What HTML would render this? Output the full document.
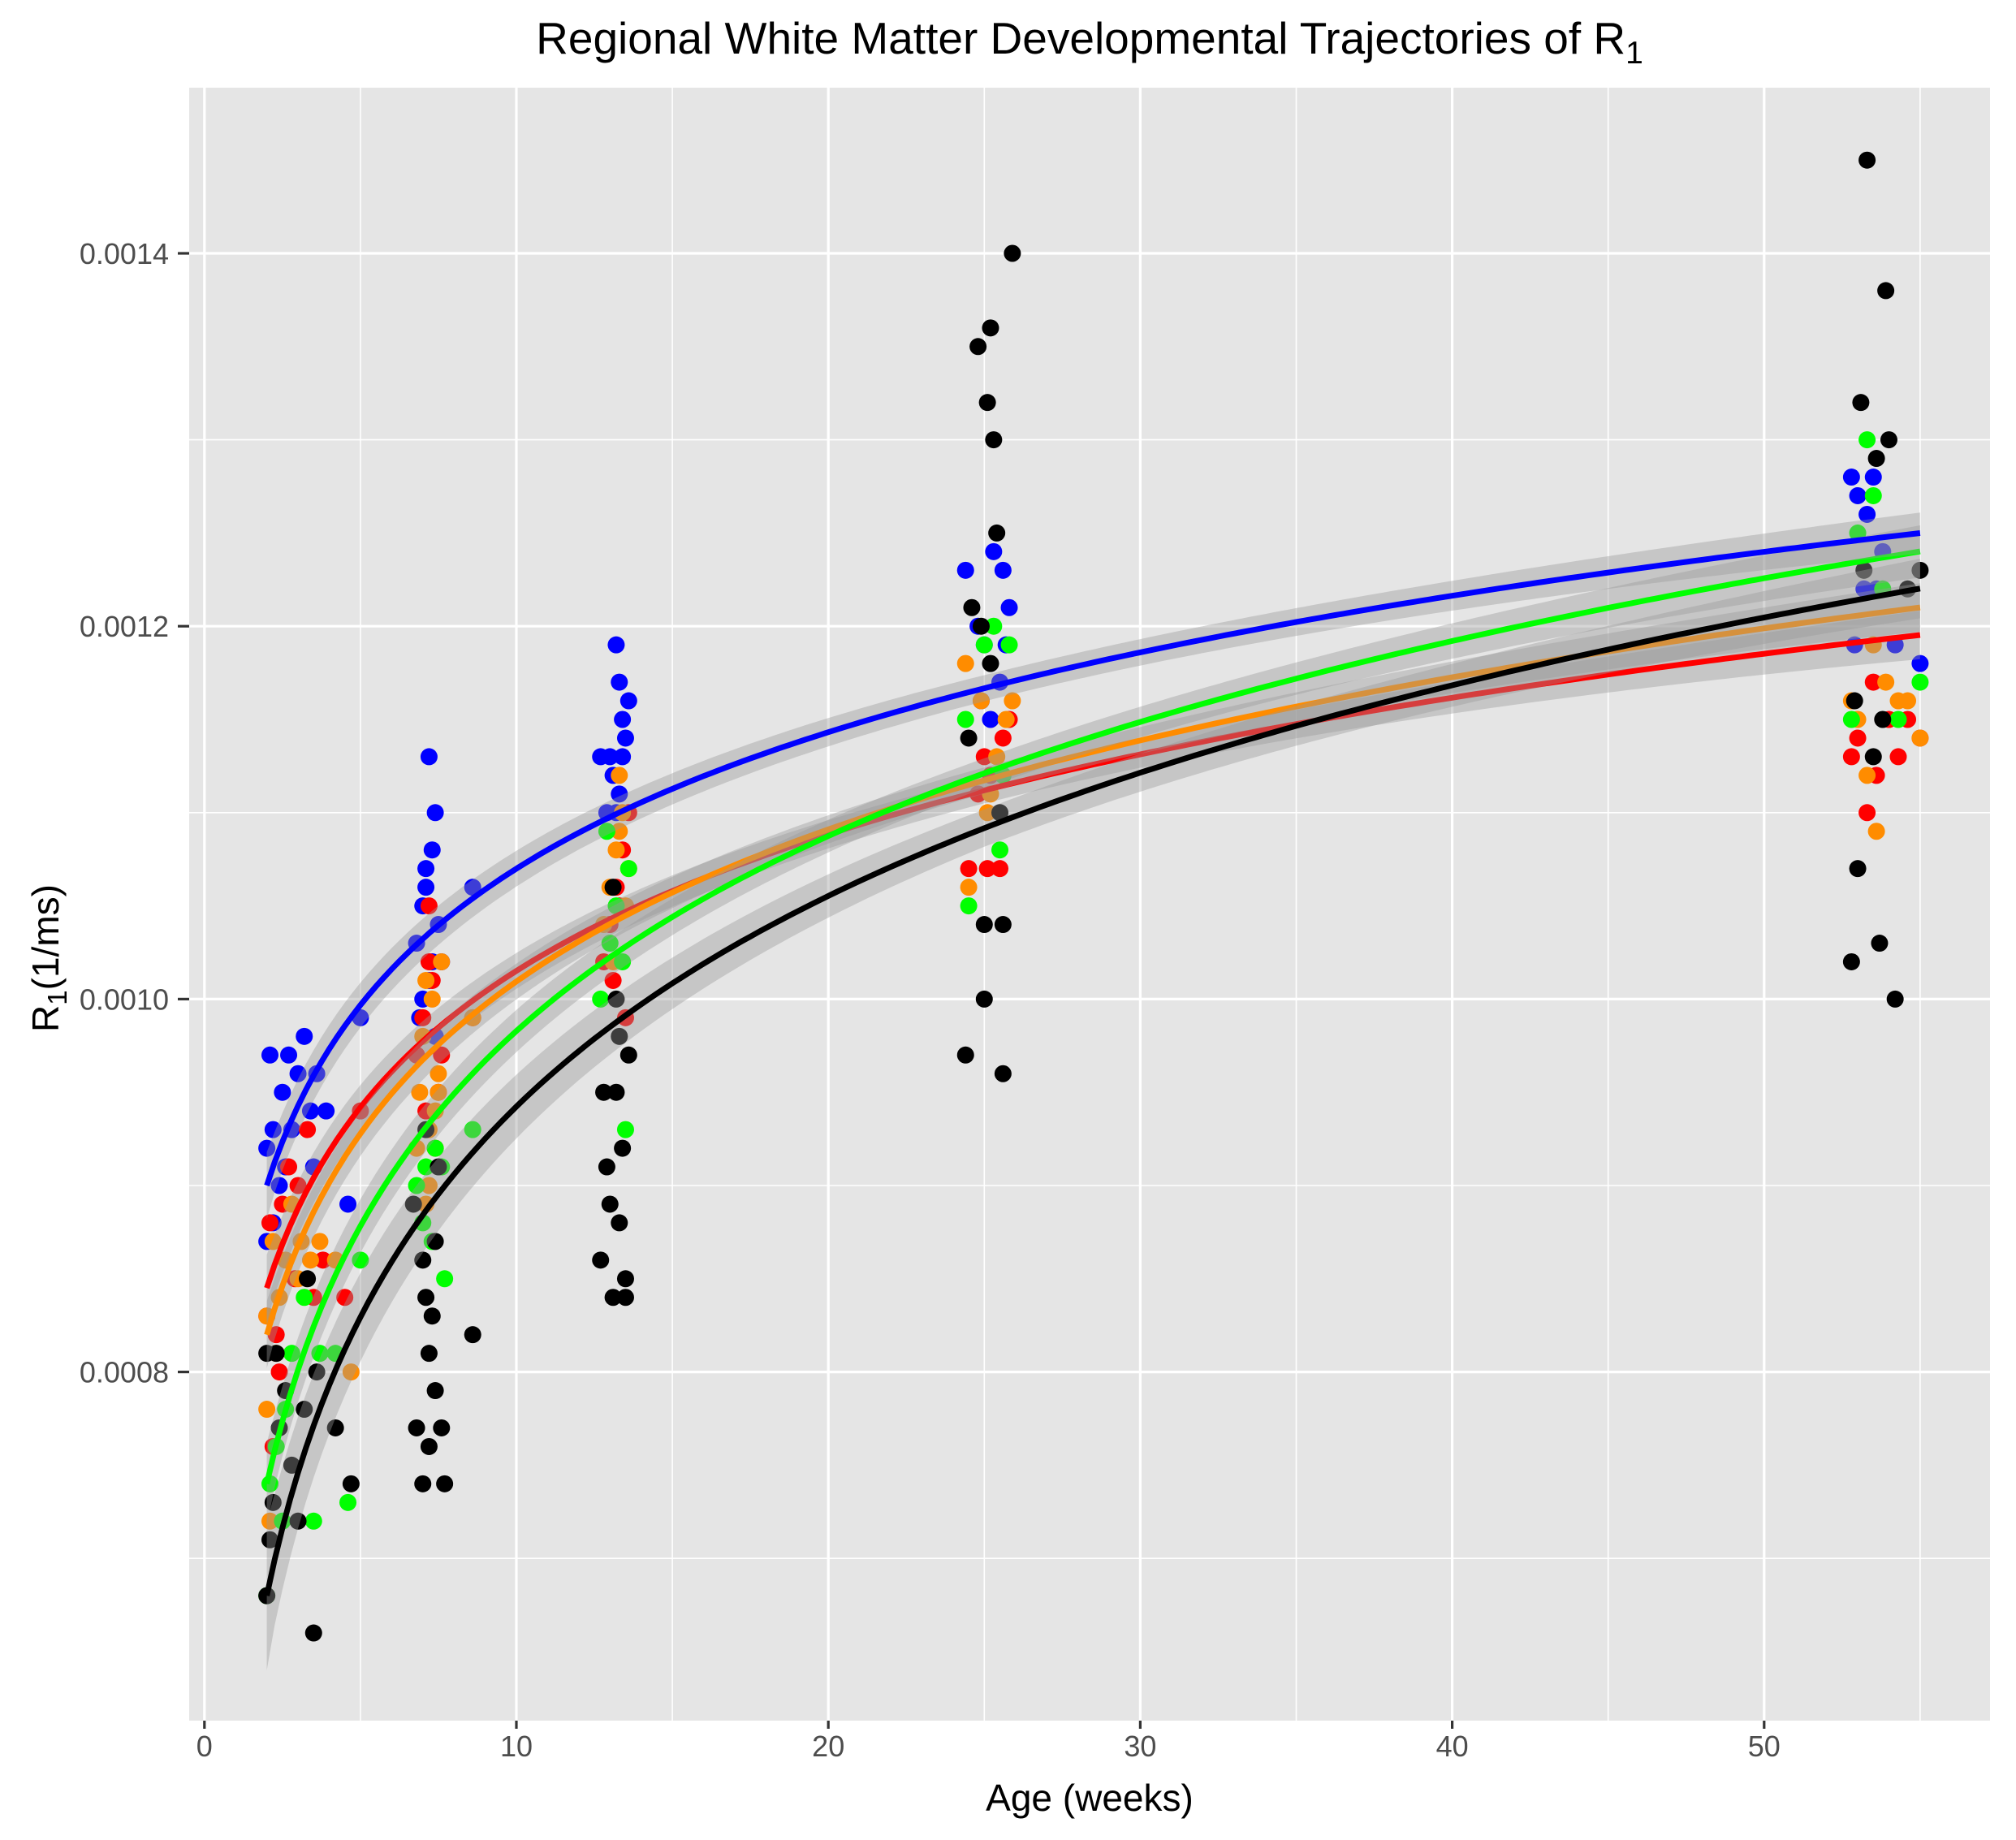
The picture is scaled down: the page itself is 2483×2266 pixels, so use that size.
<!DOCTYPE html>
<html><head><meta charset="utf-8"><style>
html,body{margin:0;padding:0;background:#fff;}
svg{display:block;font-family:"Liberation Sans",Arial,sans-serif;}
</style></head><body>
<svg id="chart" width="2483" height="2266" viewBox="0 0 2483 2266"></svg>
<script>
// ---- data ----
const seriesNames = ["red","orange","black","green","blue"];
const seriesColors = {red:"#ff0000",orange:"#ff8c00",black:"#000000",green:"#00ff00",blue:"#0000ff"};
const fitIntercept = {blue:0.000900,red:0.000845,orange:0.000820,green:0.000740,black:0.000680}; // value at age 2
const fitSlope = {blue:0.0001056,red:0.0001057,orange:0.0001177,green:0.0001509,black:0.000163};
const seStart = {blue:0.000018,red:0.000018,orange:0.000018,green:0.000022,black:0.00004};
const seMid = {blue:0.000007,red:0.000007,orange:0.000007,green:0.000008,black:0.00001};
const seEnd = {blue:0.000011,red:0.000013,orange:0.000013,green:0.000014,black:0.000016};
const xTicks = [0,10,20,30,40,50];
const xMinor = [5,15,25,35,45,55];
const yTicks = [0.0008,0.0010,0.0012,0.0014];
const yTickLabels = ["0.0008","0.0010","0.0012","0.0014"];
const yMinor = [0.0007,0.0009,0.0011,0.0013];
const ptsBlue = [[2,.00092],[2.1,.00097],[2.2,.00093],[2.4,.00090],[2.5,.00095],[2.7,.00097],[3,.00096],[3.2,.00098],[3.4,.00094],[3.6,.00096],[3.9,.00094],[2.2,.00088],[2.6,.00091],[4.6,.00089],[5,.00099],[2,.00087],[3.5,.00091],[2.8,.00093],
[6.8,.00103],[7,.00105],[7.1,.00107],[7.2,.00113],[7.3,.00108],[7.4,.00110],[7.5,.00104],[7.6,.00102],[7.0,.00100],[7.2,.00101],[7.4,.00098],[7.1,.00106],[8.6,.00106],[6.9,.00099],[7.3,.00102],
[12.7,.00113],[12.9,.00110],[13.1,.00112],[13.2,.00119],[13.3,.00117],[13.4,.00115],[13.6,.00116],[13.0,.00113],[13.3,.00111],[13.5,.00114],[13.2,.00110],[13.4,.00113],
[24.4,.00123],[24.8,.00120],[25,.00119],[25.3,.00124],[25.6,.00123],[25.8,.00121],[25.5,.00117],[24.9,.00116],[25.7,.00119],[25.2,.00115],
[52.8,.00128],[53,.00127],[53.3,.00126],[53.5,.00128],[53.2,.00122],[53.8,.00124],[54.2,.00119],[53.6,.00122],[55,.00118],[52.9,.00119]];
const ptsRed = [[2,.00083],[2.1,.00088],[2.3,.00082],[2.5,.00089],[2.7,.00091],[3,.00090],[3.3,.00093],[3.5,.00084],[3.8,.00086],[2.2,.00076],[4.5,.00084],[5,.00094],[2.9,.00085],[2.4,.00080],
[6.8,.00097],[7,.00099],[7.2,.00105],[7.3,.00101],[7.5,.00095],[7.1,.00094],[7.4,.00092],[7.6,.00097],[8.6,.00099],[7.2,.00102],
[12.8,.00102],[13,.00104],[13.2,.00106],[13.4,.00108],[13.6,.00110],[13.1,.00101],[13.5,.00099],[13.3,.00105],
[24.5,.00107],[24.8,.00111],[25,.00113],[25.2,.00112],[25.5,.00107],[25.8,.00115],[25.1,.00107],[25.6,.00114],
[52.8,.00113],[53,.00114],[53.3,.00110],[53.6,.00112],[54,.00115],[54.3,.00113],[55,.00114],[53.5,.00117],[54.6,.00115]];
const ptsOrange = [[2,.00083],[2.2,.00087],[2.4,.00084],[2.6,.00086],[2.8,.00089],[3.1,.00087],[3.4,.00086],[3.7,.00087],[4.2,.00086],[4.7,.00080],[2,.00078],[2.1,.00072],[2.3,.00081],[3,.00085],
[6.9,.00095],[7.0,.00098],[7.1,.00101],[7.2,.00093],[7.3,.00100],[7.4,.00094],[7.5,.00096],[7.6,.00102],[6.8,.00092],[7.2,.00090],[7.1,.00089],[7.5,.00095],[8.6,.00099],
[12.8,.00104],[13,.00106],[13.2,.00108],[13.3,.00112],[13.4,.00110],[13.6,.00107],[13.1,.00102],[13.5,.00105],[13.3,.00109],
[24.4,.00118],[24.5,.00106],[24.9,.00116],[25.1,.00110],[25.4,.00113],[25.7,.00115],[25.9,.00116],[25.2,.00111],
[52.8,.00116],[53,.00115],[53.3,.00112],[53.6,.00109],[53.9,.00117],[54.3,.00116],[54.6,.00116],[55,.00114],[53.5,.00119]];
const ptsGreen = [[2,.00068],[2.1,.00074],[2.3,.00076],[2.6,.00078],[2.8,.00081],[3.2,.00084],[3.7,.00081],[4.2,.00081],[4.6,.00073],[5,.00086],[3.5,.00072],[2.5,.00072],
[6.8,.00090],[7.0,.00088],[7.1,.00091],[7.3,.00087],[7.6,.00091],[7.7,.00085],[8.6,.00093],[7.4,.00092],
[12.7,.00100],[13,.00103],[13.2,.00105],[13.5,.00093],[13.6,.00107],[13.4,.00102],[12.9,.00109],
[24.4,.00115],[24.5,.00105],[25,.00119],[25.3,.00120],[25.6,.00112],[25.8,.00119],[25.5,.00108],
[53,.00125],[53.3,.00130],[53.5,.00127],[53.8,.00122],[54.3,.00115],[55,.00117],[52.8,.00115]];
const ptsBlack = [[2,.00068],[2.1,.00071],[2.2,.00073],[2.4,.00077],[2.6,.00079],[2.8,.00075],[3.0,.00072],[3.3,.00085],[3.5,.00066],[3.6,.00080],[4.2,.00077],[4.7,.00074],[2.3,.00081],[2.0,.00081],[3.2,.00078],
[6.7,.00089],[6.8,.00077],[7,.00074],[7.1,.00084],[7.2,.00081],[7.3,.00083],[7.4,.00087],[7.5,.00091],[7.6,.00077],[7.7,.00074],[7.2,.00076],[7.4,.00079],[8.6,.00082],[7.1,.00093],[7.0,.00086],
[12.7,.00086],[12.9,.00091],[13.0,.00089],[13.1,.00084],[13.2,.00095],[13.3,.00088],[13.4,.00092],[13.5,.00085],[13.6,.00097],[12.8,.00095],[13.3,.00098],[13.1,.00106],[13.5,.00084],[13.2,.00100],
[24.4,.00097],[24.5,.00114],[24.8,.00135],[25,.00100],[25.1,.00132],[25.2,.00136],[25.3,.00130],[25.4,.00125],[25.6,.00096],[25.6,.00104],[25.9,.00140],[24.6,.00121],[25.0,.00104],[25.2,.00118],[24.9,.00120],[25.5,.00110],
[52.8,.00102],[53,.00107],[53.1,.00132],[53.3,.00145],[53.5,.00113],[53.7,.00103],[53.9,.00138],[54,.00130],[54.2,.00100],[53.6,.00129],[53.2,.00123],[53.8,.00115],[55,.00123],[52.9,.00116],[54.6,.00122]];
const pointSets = {blue:ptsBlue,red:ptsRed,orange:ptsOrange,green:ptsGreen,black:ptsBlack};

// ---- layout ----
const P = {l:233,r:2451,t:108,b:2119};
const X = a => 251.8 + a*38.42;
const Y = v => 312 + (0.0014 - v)*2296000;
const NS = "http://www.w3.org/2000/svg";
const svg = document.getElementById("chart");
function mk(tag, attrs, parent){const e=document.createElementNS(NS,tag);for(const k in attrs)e.setAttribute(k,attrs[k]);(parent||svg).appendChild(e);return e;}

const bg = mk("rect",{x:P.l,y:P.t,width:P.r-P.l,height:P.b-P.t,fill:"#e5e5e5"});


const grid = mk("g",{});


yMinor.forEach(v=>mk("line",{x1:P.l,x2:P.r,y1:Y(v),y2:Y(v),stroke:"#fff","stroke-width":1.6},grid));
xMinor.forEach(a=>mk("line",{y1:P.t,y2:P.b,x1:X(a),x2:X(a),stroke:"#fff","stroke-width":1.6},grid));
yTicks.forEach(v=>mk("line",{x1:P.l,x2:P.r,y1:Y(v),y2:Y(v),stroke:"#fff","stroke-width":3.2},grid));
xTicks.forEach(a=>mk("line",{y1:P.t,y2:P.b,x1:X(a),x2:X(a),stroke:"#fff","stroke-width":3.2},grid));

// points
const ptsG = mk("g",{});


["blue","red","orange","green","black"].forEach(s=>{
  const g = mk("g",{fill:seriesColors[s]},ptsG);
  
  
  pointSets[s].forEach(p=>{
    const c = mk("circle",{cx:X(p[0]),cy:Y(p[1]),r:10.5},g);
    
    
  });
});

// fits
function fit(s,a){return fitIntercept[s]+fitSlope[s]*Math.log(a/2);}
function se(s,a){
  if(a<=25){const t=Math.log(a/2)/Math.log(12.5);return seStart[s]+(seMid[s]-seStart[s])*Math.pow(t,0.6);}
  const t=(a-25)/30;return seMid[s]+(seEnd[s]-seMid[s])*t*t;
}
const ages=[];for(let a=2;a<=55.001;a+=0.25)ages.push(a);
seriesNames.forEach(s=>{
  let up="",lo="";
  ages.forEach((a,i)=>{up+=(i?"L":"M")+X(a).toFixed(1)+","+Y(fit(s,a)+se(s,a)).toFixed(1);});
  ages.slice().reverse().forEach(a=>{lo+="L"+X(a).toFixed(1)+","+Y(fit(s,a)-se(s,a)).toFixed(1);});
  const rb = mk("path",{d:up+lo+"Z",fill:"#999999","fill-opacity":0.4});
  
  
  let d="";ages.forEach((a,i)=>{d+=(i?"L":"M")+X(a).toFixed(1)+","+Y(fit(s,a)).toFixed(1);});
  const ln = mk("path",{d:d,fill:"none",stroke:seriesColors[s],"stroke-width":7});
  
  
});

// axes
const ax = mk("g",{fill:"#4d4d4d","font-size":36});


yTicks.forEach((v,i)=>{
  mk("line",{x1:219,x2:P.l,y1:Y(v),y2:Y(v),stroke:"#333","stroke-width":3.2},ax);
  const t=mk("text",{x:208,y:Y(v)+13,"text-anchor":"end"},ax);t.textContent=yTickLabels[i];
  
  
});
xTicks.forEach(a=>{
  mk("line",{x1:X(a),x2:X(a),y1:P.b,y2:P.b+10,stroke:"#333","stroke-width":3.2},ax);
  const t=mk("text",{x:X(a),y:2163,"text-anchor":"middle"},ax);t.textContent=a;
  
  
});
</script>
<svg width="2483" height="2266" style="position:absolute;left:0;top:0;pointer-events:none;font-family:'Liberation Sans',Arial,sans-serif">
<text x="1342" y="66" text-anchor="middle" font-size="55" fill="#000">Regional White Matter Developmental Trajectories of R<tspan font-size="39" dy="12">1</tspan></text>
<text x="1342" y="2230" text-anchor="middle" font-size="46" fill="#000">Age (weeks)</text>
<text transform="translate(72,1180) rotate(-90)" text-anchor="middle" font-size="46" fill="#000">R<tspan font-size="33" dy="10">1</tspan><tspan dy="-10">(1/ms)</tspan></text>
</svg>
</body></html>
